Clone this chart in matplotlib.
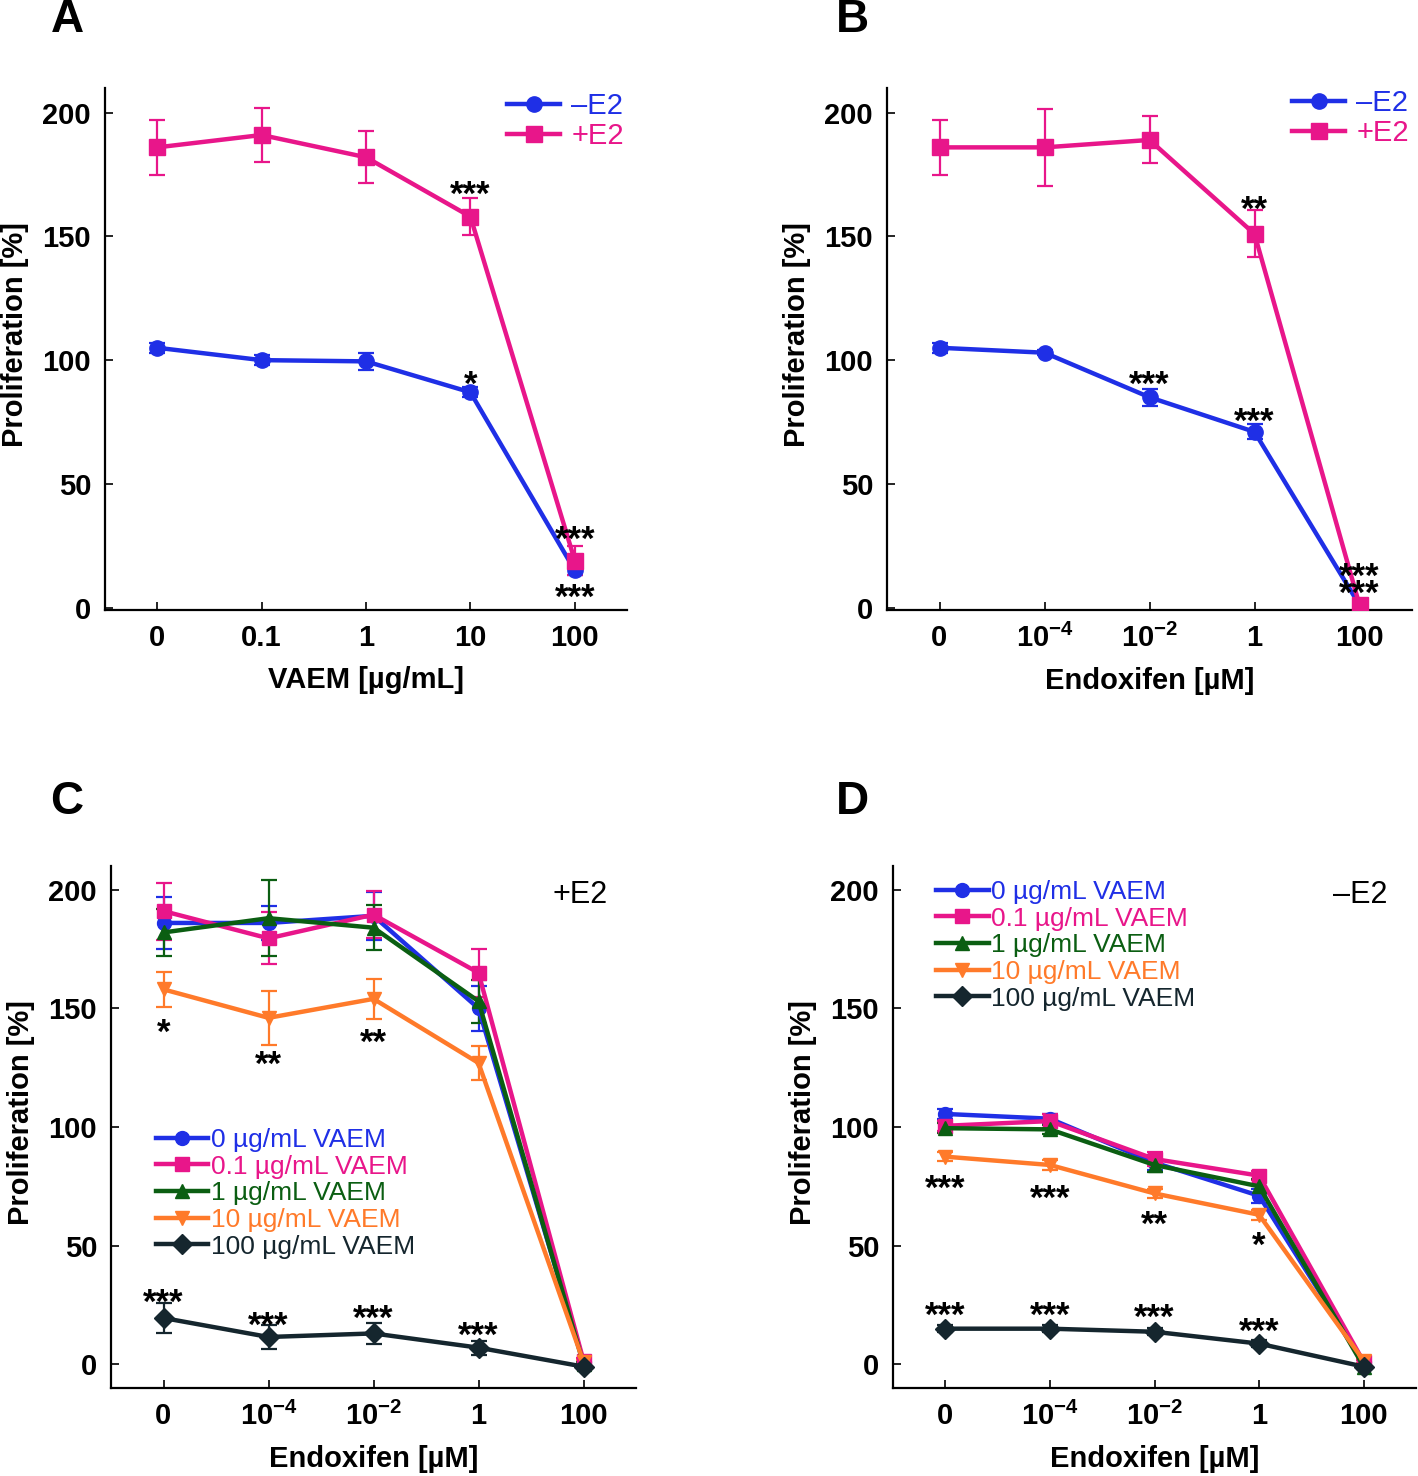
import matplotlib
matplotlib.use("Agg")
import matplotlib.pyplot as plt

plt.rcParams['font.family'] = ['Liberation Sans', 'DejaVu Sans']
plt.rcParams['mathtext.fontset'] = 'custom'
plt.rcParams['mathtext.rm'] = 'Liberation Sans'
plt.rcParams['mathtext.bf'] = 'Liberation Sans:bold'

# ---------------- data ----------------
x_idx = [0, 1, 2, 3, 4]
vaem_ticks = ['0', '0.1', '1', '10', '100']
endox_ticks = ['0', r'$\mathbf{10^{-4}}$', r'$\mathbf{10^{-2}}$', '1', '100']

# Panel A (VAEM)
a_minus = [105, 100, 99.5, 87, 15]
a_minus_err = [2, 2, 3.5, 2, 2]
a_plus = [186, 191, 182, 158, 19]
a_plus_err = [11, 11, 10.5, 7.5, 6]

# Panel B (Endoxifen)
b_minus = [105, 103, 85, 71, 1]
b_minus_err = [2, 1, 3.5, 3, 1]
b_plus = [186, 186, 189, 151, 1]
b_plus_err = [11, 15.5, 9.5, 9.5, 1]

# Panel C (+E2), Endoxifen x VAEM
vaem_labels = ['0 µg/mL VAEM', '0.1 µg/mL VAEM', '1 µg/mL VAEM', '10 µg/mL VAEM', '100 µg/mL VAEM']
c_vals = [
    [186, 186, 189, 150, 1],
    [191, 179.5, 189.5, 165, 1.5],
    [182, 188, 184, 153, 0],
    [158, 146, 154, 127, 1],
    [19.5, 11.5, 13, 7, -1],
]
c_errs = [
    [11, 7, 10, 9.5, 1],
    [12, 11, 10, 10, 1],
    [10, 16, 9.5, 9, 1],
    [7.5, 11.5, 8.5, 7, 1],
    [6.5, 5, 4.5, 3, 1],
]

# Panel D (-E2)
d_vals = [
    [105.5, 103.5, 85, 71, 1],
    [100.5, 102.5, 86.5, 79.5, 1],
    [99.5, 99, 84, 75, -1],
    [87.5, 84, 72, 63, 1.5],
    [15, 15, 13.7, 8.7, -1],
]
d_errs = [
    [2, 2, 3, 3, 1],
    [2, 3, 3, 2, 1],
    [2, 2, 3, 3, 1],
    [2, 2, 2, 2, 1],
    [1.5, 1.5, 1.5, 1.5, 0.5],
]

# significance: (series index, x index, label, offset in px, + = up)
sig_a = [(1, 3, '***', 21), (0, 3, '*', 7), (1, 4, '***', 20), (0, 4, '***', -28)]
sig_b = [(1, 3, '**', 23.5), (0, 2, '***', 12), (0, 3, '***', 10), (1, 4, '***', 28), (0, 4, '***', 11)]
sig_c = [(3, 0, '*', -44), (3, 1, '**', -48), (3, 2, '**', -44),
         (4, 0, '***', 15), (4, 1, '***', 11), (4, 2, '***', 14), (4, 3, '***', 11.5)]
sig_d = [(3, 0, '***', -33), (3, 1, '***', -34.5), (3, 2, '**', -32), (3, 3, '*', -32),
         (4, 0, '***', 12.5), (4, 1, '***', 12.5), (4, 2, '***', 13.5), (4, 3, '***', 11.5)]

# ---------------- style ----------------
C_BLUE = '#1f2fe6'
C_MAG = '#e8168a'
C_GREEN = '#0b5e12'
C_ORANGE = '#ff7a2a'
C_DARK = '#15262e'
five_colors = [C_BLUE, C_MAG, C_GREEN, C_ORANGE, C_DARK]
five_markers = ['o', 's', '^', 'v', 'D']
PX2PT = 0.72

fig = plt.figure(figsize=(14.18, 14.76), dpi=100)
W, H = 1418, 1476


def make_ax(left, right, top, bottom):
    return fig.add_axes([left / W, 1 - bottom / H, (right - left) / W, (bottom - top) / H])


def style_ax(ax, ticklabels, xlabel, ylim):
    ax.set_xlim(-0.5, 4.5)
    ax.set_ylim(*ylim)
    ax.set_xticks(x_idx)
    ax.set_xticklabels(ticklabels)
    ax.set_yticks([0, 50, 100, 150, 200])
    for s in ['top', 'right']:
        ax.spines[s].set_visible(False)
    for s in ['left', 'bottom']:
        ax.spines[s].set_linewidth(1.6)
    ax.tick_params(direction='in', length=6, width=1.2, labelsize=21, pad=10)
    for lab in ax.get_xticklabels() + ax.get_yticklabels():
        lab.set_fontweight('bold')
    ax.set_xlabel(xlabel, fontsize=21, fontweight='bold', labelpad=10)
    ax.set_ylabel('Proliferation [%]', fontsize=21, fontweight='bold', labelpad=10)
    ax.yaxis.label.set_y(0.527)


def draw_series(ax, vals, errs, color, marker, ms, lw=3.2):
    ax.errorbar(x_idx, vals, yerr=errs, fmt='none', ecolor=color, elinewidth=1.6,
                capsize=6, capthick=1.6, zorder=2)
    ln, = ax.plot(x_idx, vals, color=color, marker=marker, markersize=ms, lw=lw, zorder=3)
    return ln


def draw_sig(ax, sigs, series_vals):
    for si, xi, lab, dy in sigs:
        ax.annotate(lab, xy=(x_idx[xi], series_vals[si][xi]), xytext=(0, dy * PX2PT),
                    textcoords='offset points', ha='center', va='center',
                    fontsize=25, fontweight='bold', color='black', zorder=5)


def color_legend_text(leg):
    for t, l in zip(leg.get_texts(), leg.get_lines()):
        t.set_color(l.get_color())


# ---- Panel A ----
axA = make_ax(105, 627, 88, 610)
l1 = draw_series(axA, a_minus, a_minus_err, C_BLUE, 'o', 11)
l2 = draw_series(axA, a_plus, a_plus_err, C_MAG, 's', 11)
style_ax(axA, vaem_ticks, 'VAEM [µg/mL]', (-1, 210))
draw_sig(axA, sig_a, [a_minus, a_plus])
leg = axA.legend([l1, l2], ['–E2', '+E2'], loc='upper right', bbox_to_anchor=(1.0, 0.998),
                 frameon=False, fontsize=21, handlelength=1.8, handletextpad=0.4,
                 labelspacing=0.08, borderpad=0.1, borderaxespad=0.0)
color_legend_text(leg)

# ---- Panel B ----
axB = make_ax(887, 1412, 88, 610)
l1 = draw_series(axB, b_minus, b_minus_err, C_BLUE, 'o', 11)
l2 = draw_series(axB, b_plus, b_plus_err, C_MAG, 's', 11)
style_ax(axB, endox_ticks, 'Endoxifen [µM]', (-1, 210))
draw_sig(axB, sig_b, [b_minus, b_plus])
leg = axB.legend([l1, l2], ['–E2', '+E2'], loc='upper right', bbox_to_anchor=(1.0, 1.004),
                 frameon=False, fontsize=21, handlelength=1.8, handletextpad=0.4,
                 labelspacing=0.08, borderpad=0.1, borderaxespad=0.0)
color_legend_text(leg)

# ---- Panel C ----
axC = make_ax(111, 636, 866, 1388)
linesC = [draw_series(axC, v, e, c, m, 10) for v, e, c, m in zip(c_vals, c_errs, five_colors, five_markers)]
style_ax(axC, endox_ticks, 'Endoxifen [µM]', (-10, 210))
draw_sig(axC, sig_c, c_vals)
leg = axC.legend(linesC, vaem_labels, loc='upper left', bbox_to_anchor=(0.085, 0.498),
                 frameon=False, fontsize=19, handlelength=2.0, handletextpad=0.1,
                 labelspacing=0.1, borderpad=0.0, borderaxespad=0.0)
color_legend_text(leg)
axC.text(0.945, 0.944, '+E2', transform=axC.transAxes, ha='right', va='center', fontsize=22)

# ---- Panel D ----
axD = make_ax(893, 1416, 866, 1388)
linesD = [draw_series(axD, v, e, c, m, 10) for v, e, c, m in zip(d_vals, d_errs, five_colors, five_markers)]
style_ax(axD, endox_ticks, 'Endoxifen [µM]', (-10, 210))
draw_sig(axD, sig_d, d_vals)
leg = axD.legend(linesD, vaem_labels, loc='upper left', bbox_to_anchor=(0.082, 0.973),
                 frameon=False, fontsize=19, handlelength=2.0, handletextpad=0.1,
                 labelspacing=0.1, borderpad=0.0, borderaxespad=0.0)
color_legend_text(leg)
axD.text(0.946, 0.944, '–E2', transform=axD.transAxes, ha='right', va='center', fontsize=22)

# panel letters
for lab, px, py in [('A', 67, 20), ('B', 852, 20), ('C', 67, 802), ('D', 852, 802)]:
    fig.text(px / W, 1 - py / H, lab, ha='center', va='center', fontsize=33, fontweight='bold')

fig.savefig('out.png', dpi=100)
